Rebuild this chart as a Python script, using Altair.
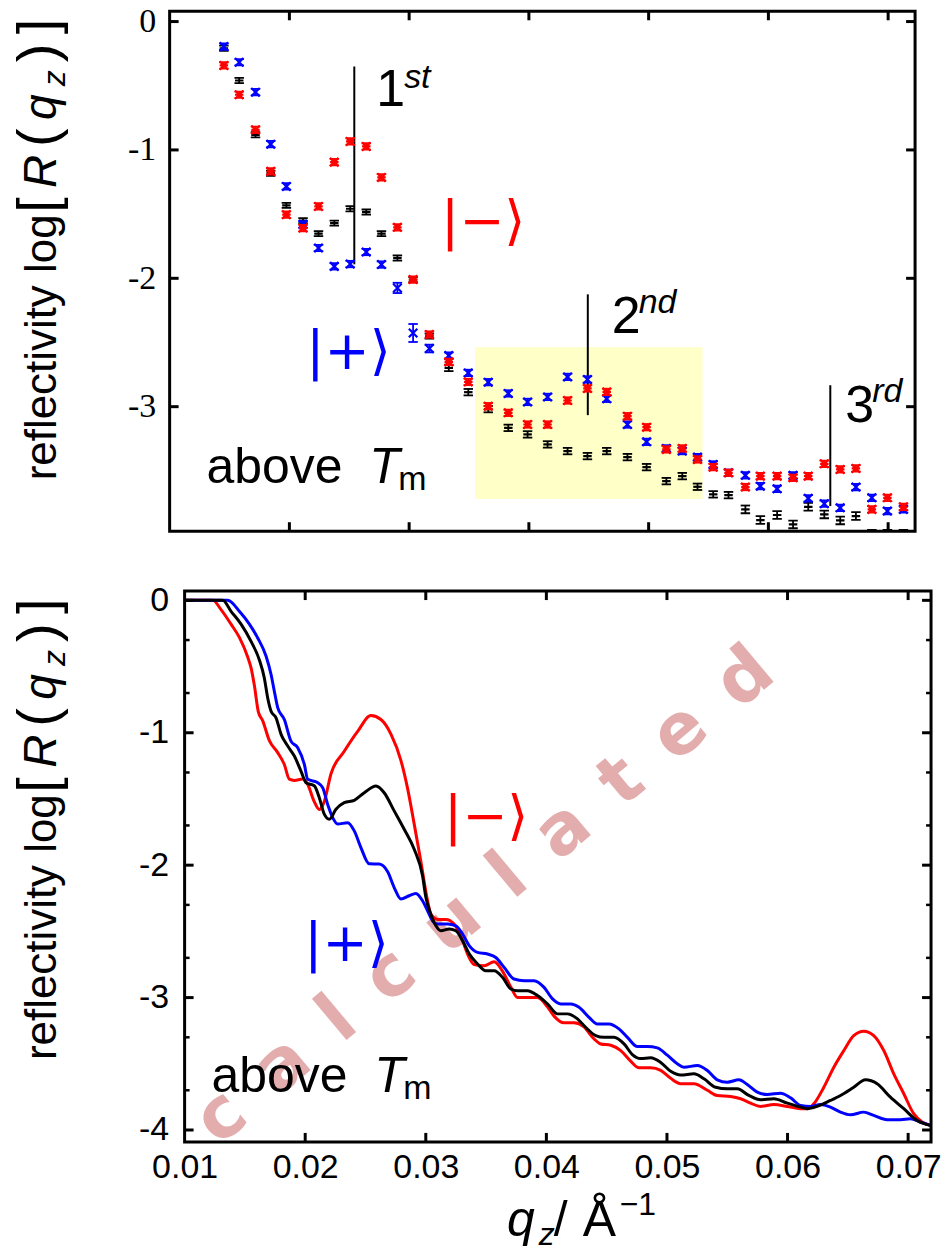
import altair as alt
import pandas as pd

# ---------------- measured reflectivity (upper panel) ----------------
q_meas = [0.01453, 0.01581, 0.01717, 0.01844, 0.01975, 0.02114, 0.02243, 0.02375, 0.02508, 0.02642,
          0.02769, 0.02902, 0.03033, 0.03169, 0.03331, 0.03494, 0.03661, 0.03828, 0.03989, 0.04156,
          0.04323, 0.04489, 0.04650, 0.04823, 0.04983, 0.05148, 0.05281, 0.05408, 0.05539, 0.05667,
          0.05808, 0.05933, 0.06073, 0.06206, 0.06333, 0.06467, 0.06600, 0.06731, 0.06864, 0.06994,
          0.07128]
meas_black = [-0.208, -0.459, -0.882, -1.181, -1.432, -1.551, -1.652, -1.570, -1.458, -1.484,
              -1.652, -1.842, -2.010, -2.450, -2.698, -2.887, -3.019, -3.165, -3.216, -3.294,
              -3.346, -3.385, -3.346, -3.393, -3.471, -3.580, -3.541, -3.624, -3.683, -3.689,
              -3.800, -3.883, -3.844, -3.917, -3.780, -3.839, -3.886, -3.852, -3.990, -3.990,
              -3.990]
meas_red = [-0.342, -0.570, -0.843, -1.167, -1.504, -1.609, -1.440, -1.095, -0.934, -0.973,
            -1.214, -1.603, -2.010, -2.438, -2.651, -2.807, -2.996, -3.048, -3.139, -3.139,
            -2.952, -2.858, -2.885, -3.074, -3.160, -3.333, -3.325, -3.411, -3.471, -3.515,
            -3.626, -3.541, -3.541, -3.554, -3.541, -3.445, -3.489, -3.481, -3.800, -3.710,
            -3.780]
meas_blue = [-0.195, -0.317, -0.550, -0.955, -1.284, -1.580, -1.764, -1.907, -1.889, -1.795,
             -1.893, -2.075, -2.426, -2.547, -2.602, -2.737, -2.809, -2.897, -2.963, -2.924,
             -2.768, -2.788, -2.939, -3.139, -3.274, -3.325, -3.346, -3.393, -3.450, -3.515,
             -3.535, -3.619, -3.640, -3.535, -3.714, -3.756, -3.788, -3.626, -3.710, -3.813,
             -3.800]
err_black = [0.02] * 14 + [0.025] * 16 + [0.03] * 11
err_red = [0.025] * 41
err_blue = [0.025] * 11 + [0.04, 0.07, 0.03] + [0.025] * 27

# Bragg-peak markers (q, top, bottom) and highlighted region
order_q = [0.02542, 0.04492, 0.06517]
order_top = [-0.35, -2.125, -2.833]
order_bot = [-1.891, -3.066, -3.774]
box_q = [0.0355, 0.0545]
box_v = [-2.537, -3.72]

# ---------------- calculated reflectivity (lower panel) ----------------
calc_red_q = [0.0100, 0.01234, 0.01302, 0.01385, 0.01454, 0.01524, 0.01551, 0.01578, 0.01611, 0.01648,
              0.01703, 0.01772, 0.01827, 0.01868, 0.01910, 0.01979, 0.02021, 0.02075, 0.02117, 0.02158,
              0.02214, 0.02324, 0.02435, 0.02545, 0.02628, 0.02711, 0.02794, 0.02849, 0.02904, 0.02959,
              0.03015, 0.03042, 0.03098, 0.03167, 0.03235, 0.03305, 0.03346, 0.03401, 0.03484, 0.03567,
              0.03636, 0.03705, 0.03761, 0.03843, 0.03926, 0.04009, 0.04064, 0.04147, 0.04229, 0.04312,
              0.04382, 0.04451, 0.04534, 0.04617, 0.04699, 0.04768, 0.04865, 0.04948, 0.05031, 0.05114,
              0.05224, 0.05335, 0.05417, 0.05528, 0.05611, 0.05693, 0.05776, 0.05886, 0.05998, 0.06108,
              0.06163, 0.06218, 0.06301, 0.06384, 0.06467, 0.06549, 0.06632, 0.06715, 0.06798, 0.06881,
              0.06964, 0.07046, 0.07116, 0.07185]
calc_red_v = [0, 0, -0.07, -0.18, -0.28, -0.43, -0.51, -0.64, -0.84, -0.91,
              -1.06, -1.15, -1.24, -1.35, -1.36, -1.35, -1.39, -1.52, -1.58, -1.52,
              -1.31, -1.14, -0.99, -0.87, -0.90, -1.01, -1.21, -1.42, -1.69, -1.97,
              -2.27, -2.37, -2.41, -2.41, -2.445, -2.57, -2.67, -2.75, -2.76, -2.73,
              -2.80, -2.92, -3.00, -3.00, -3.00, -3.07, -3.14, -3.19, -3.19, -3.22,
              -3.30, -3.35, -3.36, -3.40, -3.48, -3.53, -3.53, -3.55, -3.61, -3.65,
              -3.65, -3.70, -3.74, -3.747, -3.764, -3.797, -3.822, -3.807, -3.822, -3.839,
              -3.839, -3.802, -3.677, -3.526, -3.40, -3.287, -3.254, -3.287, -3.40, -3.576,
              -3.726, -3.877, -3.94, -3.965]
calc_black_q = [0.0100, 0.01316, 0.01385, 0.01468, 0.01551, 0.01620, 0.01661, 0.01689, 0.01717, 0.01758,
                0.01800, 0.01855, 0.01910, 0.01965, 0.02007, 0.02075, 0.02117, 0.02158, 0.02200, 0.02255,
                0.02324, 0.02407, 0.02490, 0.02587, 0.02655, 0.02738, 0.02821, 0.02904, 0.02973, 0.03001,
                0.03042, 0.03084, 0.03125, 0.03194, 0.03249, 0.03305, 0.03360, 0.03429, 0.03498, 0.03567,
                0.03636, 0.03705, 0.03761, 0.03843, 0.03926, 0.04009, 0.04092, 0.04175, 0.04258, 0.04326,
                0.04409, 0.04478, 0.04561, 0.04644, 0.04713, 0.04782, 0.04865, 0.04948, 0.05031, 0.05114,
                0.05224, 0.05307, 0.05404, 0.05500, 0.05583, 0.05679, 0.05776, 0.05886, 0.05998, 0.06108,
                0.06163, 0.06246, 0.06356, 0.06439, 0.06549, 0.06646, 0.06743, 0.06853, 0.06964, 0.07074,
                0.07185]
calc_black_v = [0, 0, -0.083, -0.18, -0.31, -0.45, -0.586, -0.737, -0.837, -0.887,
                -1.012, -1.10, -1.176, -1.29, -1.377, -1.40, -1.49, -1.615, -1.653, -1.578,
                -1.528, -1.51, -1.453, -1.402, -1.453, -1.59, -1.729, -1.88, -2.08, -2.244,
                -2.37, -2.458, -2.495, -2.482, -2.495, -2.57, -2.67, -2.746, -2.797, -2.797,
                -2.847, -2.935, -2.948, -2.948, -2.985, -3.048, -3.123, -3.123, -3.161, -3.224,
                -3.287, -3.30, -3.30, -3.35, -3.43, -3.46, -3.455, -3.49, -3.557, -3.585,
                -3.576, -3.613, -3.677, -3.689, -3.689, -3.739, -3.772, -3.764, -3.797, -3.827,
                -3.839, -3.822, -3.777, -3.739, -3.677, -3.621, -3.651, -3.752, -3.839, -3.928,
                -3.965]
calc_blue_q = [0.0100, 0.01358, 0.01454, 0.01537, 0.01606, 0.01675, 0.01717, 0.01744, 0.01772, 0.01827,
               0.01882, 0.01938, 0.01993, 0.02021, 0.02104, 0.02145, 0.02186, 0.02228, 0.02269, 0.02352,
               0.02407, 0.02462, 0.02531, 0.02614, 0.02684, 0.02738, 0.02794, 0.02862, 0.02918, 0.02973,
               0.03015, 0.03056, 0.03098, 0.03181, 0.03249, 0.03305, 0.03360, 0.03429, 0.03512, 0.03581,
               0.03650, 0.03732, 0.03815, 0.03898, 0.03981, 0.04051, 0.04119, 0.04202, 0.04271, 0.04354,
               0.04423, 0.04519, 0.04602, 0.04672, 0.04755, 0.04838, 0.04920, 0.05003, 0.05086, 0.05141,
               0.05252, 0.05335, 0.05417, 0.05500, 0.05597, 0.05666, 0.05749, 0.05832, 0.05942, 0.06025,
               0.06108, 0.06191, 0.06273, 0.06356, 0.06439, 0.06522, 0.06632, 0.06715, 0.06826, 0.06936,
               0.07019, 0.07102, 0.07185]
calc_blue_v = [0, 0, -0.083, -0.18, -0.284, -0.42, -0.56, -0.686, -0.81, -0.90,
               -1.063, -1.113, -1.239, -1.352, -1.377, -1.415, -1.54, -1.641, -1.69, -1.679,
               -1.741, -1.867, -1.99, -1.992, -2.05, -2.169, -2.256, -2.231, -2.214, -2.269,
               -2.345, -2.42, -2.445, -2.445, -2.458, -2.52, -2.608, -2.659, -2.671, -2.697,
               -2.772, -2.86, -2.872, -2.872, -2.923, -3.01, -3.048, -3.048, -3.073, -3.149,
               -3.199, -3.199, -3.236, -3.30, -3.37, -3.37, -3.38, -3.435, -3.50, -3.526,
               -3.513, -3.551, -3.621, -3.639, -3.621, -3.656, -3.714, -3.732, -3.722, -3.757,
               -3.815, -3.822, -3.807, -3.827, -3.865, -3.885, -3.865, -3.89, -3.922, -3.922,
               -3.915, -3.94, -3.965]

# axis ticks
q_ticks = [0.02, 0.03, 0.04, 0.05, 0.06, 0.07]
q_labels = [0.01, 0.02, 0.03, 0.04, 0.05, 0.06, 0.07]
top_y_ticks = [0, -1, -2, -3]
bot_y_ticks = [0, -1, -2, -3, -4]
bot_y_minor = [-0.3, -0.7, -1.3, -1.7, -2.3, -2.7, -3.3, -3.7]

RED, BLUE, BLACK = "#ff0000", "#0000ff", "#000000"
SANS, SERIF, MATH = "Liberation Sans", "Liberation Serif", "DejaVu Sans"

# panel geometry (pixels)
TW, TH = 747, 521          # upper plot area
BW, BH, BX0 = 763, 552, 15  # lower plot area, x range starts at BX0

ONE = pd.DataFrame({"k": [0]})


def txt(s, x, y, size, color=BLACK, style="normal", font=SANS, angle=0,
        align="left", baseline="alphabetic", weight="normal"):
    return alt.Chart(ONE).mark_text(
        text=s, fontSize=size, font=font, fontStyle=style, color=color, angle=angle,
        align=align, baseline=baseline, fontWeight=weight
    ).encode(x=alt.value(x), y=alt.value(y))


def ytitle():
    # "reflectivity log[R(q_z)]", written bottom-to-top
    bx = -114
    parts = [("reflectivity log", 470, 44, "normal", 0),
             ("[", 202, 56, "normal", 0),
             ("R", 177, 46, "italic", 0),
             ("(", 136, 56, "normal", 0),
             ("q", 109, 46, "italic", 0),
             ("z", 75, 32, "italic", 9),
             (")", 51, 56, "normal", 0),
             ("]", 23, 56, "normal", 0)]
    return [txt(s, bx + dx, y, fs, style=st, angle=270) for s, y, fs, st, dx in parts]


def above_tm(x, y):
    return [txt("above", x, y, 50),
            txt("T", x + 163, y, 50, style="italic"),
            txt("m", x + 192, y + 7, 34)]


def frame(w, h, x0=0):
    return alt.Chart(ONE).mark_rect(filled=False, color=BLACK, strokeWidth=3).encode(
        x=alt.value(x0), x2=alt.value(w), y=alt.value(0), y2=alt.value(h))


def edge_ticks(xenc, yenc, xs, ys, w, h, x0=0, ys_minor=None, L=9, l=5):
    dq = pd.DataFrame({"q": xs})
    dv = pd.DataFrame({"v": ys})
    out = [
        alt.Chart(dq).mark_rule(color=BLACK, strokeWidth=3).encode(x=xenc, y=alt.value(0), y2=alt.value(L)),
        alt.Chart(dq).mark_rule(color=BLACK, strokeWidth=3).encode(x=xenc, y=alt.value(h - L), y2=alt.value(h)),
        alt.Chart(dv).mark_rule(color=BLACK, strokeWidth=3).encode(y=yenc, x=alt.value(x0), x2=alt.value(x0 + L)),
        alt.Chart(dv).mark_rule(color=BLACK, strokeWidth=3).encode(y=yenc, x=alt.value(w - L), x2=alt.value(w)),
    ]
    if ys_minor:
        dm = pd.DataFrame({"v": ys_minor})
        out += [
            alt.Chart(dm).mark_rule(color=BLACK, strokeWidth=2.5).encode(y=yenc, x=alt.value(x0), x2=alt.value(x0 + l)),
            alt.Chart(dm).mark_rule(color=BLACK, strokeWidth=2.5).encode(y=yenc, x=alt.value(w - l), x2=alt.value(w)),
        ]
    return out


# ---------------- upper panel ----------------
X_TOP = alt.Scale(domain=[0.01, 0.07225], nice=False, zero=False)
Y_TOP = alt.Scale(domain=[-3.97, 0.08], nice=False, zero=False)

top_y_axis = alt.Axis(values=top_y_ticks, labelExpr="toString(datum.value)", labelFont=SERIF,
                      labelFontSize=34, labelColor=BLACK, labelPadding=14, ticks=False, tickSize=0,
                      domain=False, grid=False, title=None, labelFlush=False, labelOverlap=False)


def tx(field):
    return alt.X(field, type="quantitative", scale=X_TOP, axis=None)


def ty(field):
    return alt.Y(field, type="quantitative", scale=Y_TOP, axis=top_y_axis)


box_df = pd.DataFrame({"q1": [box_q[0]], "q2": [box_q[1]], "v1": [box_v[0]], "v2": [box_v[1]]})
highlight = alt.Chart(box_df).mark_rect(color="#ffffc8").encode(
    x=tx("q1"), x2="q2:Q", y=ty("v1"), y2="v2:Q")

orders_df = pd.DataFrame({"q": order_q, "v1": order_top, "v2": order_bot})
order_lines = alt.Chart(orders_df).mark_rule(color=BLACK, strokeWidth=2).encode(
    x=tx("q"), y=ty("v1"), y2="v2:Q")

CAP = "M-1,0L1,0"
SHAPES = {
    "black": "M-1,0L1,0",
    "blue": "M-1,-1L1,1M-1,1L1,-1",
    "red": "M-1,-1L1,1M-1,1L1,-1M-1,0L1,0",
}


def measured(vals, errs, color, key):
    df = pd.DataFrame({"q": q_meas, "v": vals,
                       "lo": [a - e for a, e in zip(vals, errs)],
                       "hi": [a + e for a, e in zip(vals, errs)]})
    bars = alt.Chart(df).mark_rule(color=color, strokeWidth=1.8, clip=True).encode(
        x=tx("q"), y=ty("lo"), y2="hi:Q")
    cap_lo = alt.Chart(df).mark_point(shape=CAP, size=90, color=color, strokeWidth=1.8,
                                      filled=False, opacity=1, clip=True).encode(x=tx("q"), y=ty("lo"))
    cap_hi = alt.Chart(df).mark_point(shape=CAP, size=90, color=color, strokeWidth=1.8,
                                      filled=False, opacity=1, clip=True).encode(x=tx("q"), y=ty("hi"))
    pts = alt.Chart(df).mark_point(shape=SHAPES[key], size=72, color=color, strokeWidth=2.2,
                                   filled=False, opacity=1, clip=True).encode(x=tx("q"), y=ty("v"))
    return [bars, cap_lo, cap_hi, pts]


top_layers = [highlight, order_lines]
top_layers += measured(meas_black, err_black, BLACK, "black")
top_layers += measured(meas_blue, err_blue, BLUE, "blue")
top_layers += measured(meas_red, err_red, RED, "red")
top_layers += [
    txt("1", 207, 95, 52), txt("st", 235, 77, 34, style="italic"),
    txt("2", 443, 322, 52), txt("nd", 470, 302, 34, style="italic"),
    txt("3", 677, 412, 52), txt("rd", 704, 392, 34, style="italic"),
    txt("|\u2212\u27e9", 272, 212, 54, color=RED, font=MATH, baseline="middle"),
    txt("|+\u27e9", 137, 342, 54, color=BLUE, font=MATH, baseline="middle"),
]
top_layers += above_tm(37, 473)
top_layers += ytitle()
top_layers += edge_ticks(tx("q"), ty("v"), q_ticks, top_y_ticks, TW, TH)
top_layers.append(frame(TW, TH))

top = alt.layer(*top_layers).properties(width=TW, height=TH)

# ---------------- lower panel ----------------
X_BOT = alt.Scale(domain=[0.01, 0.0719], range=[BX0, BW], nice=False, zero=False)
Y_BOT = alt.Scale(domain=[-4.09, 0.07], nice=False, zero=False)

bot_x_axis = alt.Axis(values=q_labels, format=".2f", labelFont=SANS, labelFontSize=34,
                      labelColor=BLACK, labelPadding=9, ticks=False, tickSize=0, domain=False,
                      grid=False, title=None, labelFlush=False, labelOverlap=False)
bot_y_axis = alt.Axis(values=bot_y_ticks, labelExpr="toString(datum.value)", labelFont=SANS,
                      labelFontSize=34, labelColor=BLACK, labelPadding=1, ticks=False, tickSize=0,
                      domain=False, grid=False, title=None, labelFlush=False, labelOverlap=False)


def bx(field):
    return alt.X(field, type="quantitative", scale=X_BOT, axis=bot_x_axis)


def by(field):
    return alt.Y(field, type="quantitative", scale=Y_BOT, axis=bot_y_axis)


watermark = txt("c\u2002a\u2002l\u2002c\u2002u\u2002l\u2002a\u2002t\u2002e\u2002d", 316, 306, 71,
                color="#e3adad", font=MATH, weight="bold", angle=320, align="center",
                baseline="middle")


def calc_line(qs, vs, color):
    df = pd.DataFrame({"q": qs, "v": vs})
    return alt.Chart(df).mark_line(color=color, strokeWidth=3, clip=True,
                                   interpolate="monotone").encode(x=bx("q"), y=by("v"))


bot_layers = [watermark,
              calc_line(calc_red_q, calc_red_v, RED),
              calc_line(calc_blue_q, calc_blue_v, BLUE),
              calc_line(calc_black_q, calc_black_v, BLACK)]
bot_layers += [
    txt("|\u2212\u27e9", 275, 227, 54, color=RED, font=MATH, baseline="middle"),
    txt("|+\u27e9", 135, 355, 54, color=BLUE, font=MATH, baseline="middle"),
]
bot_layers += above_tm(42, 502)
bot_layers += ytitle()
# x-axis title  q_z / Å^-1
bot_layers += [
    txt("q", 338, 646, 50, style="italic"),
    txt("z", 370, 655, 32, style="italic"),
    txt("/", 385, 646, 50),
    txt("\u00c5", 414, 646, 50),
    txt("\u22121", 451, 625, 32),
]
bot_layers += edge_ticks(bx("q"), by("v"), q_ticks, bot_y_ticks, BW, BH, x0=BX0, ys_minor=bot_y_minor)
bot_layers.append(frame(BW, BH, x0=BX0))

bottom = alt.layer(*bot_layers).properties(width=BW, height=BH)

chart = alt.vconcat(top, bottom, spacing=50).configure_view(stroke=None).properties(
    padding={"left": 11, "top": 3, "right": 10, "bottom": 0}, background="white")

chart.save("out.html", embed_options={"renderer": "svg", "actions": False})
